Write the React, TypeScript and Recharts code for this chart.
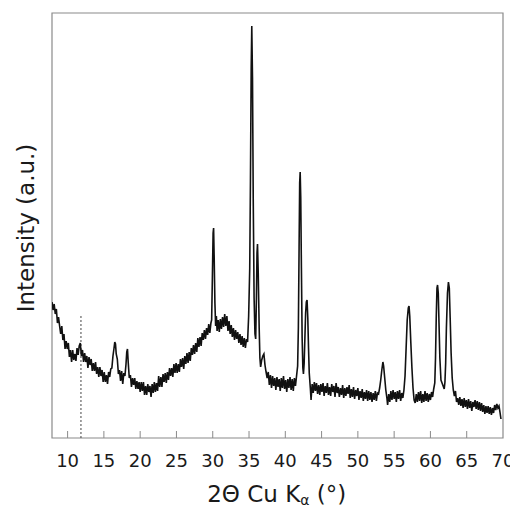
import { Label, Line, LineChart, ReferenceArea, ReferenceLine, XAxis, YAxis } from "recharts";

// [2θ (°), intensity (a.u.)], split by region
const lowAngle: [number, number][] = [
  [7.85, 136], [8.0, 128], [8.15, 134], [8.3, 124], [8.45, 129], [8.6, 115], [8.75, 121], [8.9, 112],
  [9.05, 104], [9.2, 112], [9.35, 98], [9.5, 104], [9.65, 89], [9.8, 97], [9.95, 89], [10.1, 95],
  [10.25, 81], [10.4, 88], [10.55, 76], [10.7, 88], [10.85, 78], [11.0, 84], [11.15, 77], [11.3, 90],
  [11.45, 83], [11.6, 92], [11.75, 95], [11.9, 82], [12.05, 88], [12.2, 76], [12.35, 85], [12.5, 76],
  [12.65, 82], [12.8, 70], [12.95, 81], [13.1, 73], [13.25, 79], [13.4, 67], [13.55, 75], [13.7, 67],
  [13.85, 76], [14.0, 64], [14.15, 71], [14.3, 61], [14.45, 71], [14.6, 62], [14.75, 68], [14.9, 56],
  [15.05, 66], [15.2, 56], [15.35, 63], [15.5, 54], [15.65, 66], [15.8, 61], [15.95, 69], [16.1, 70],
  [16.25, 82], [16.4, 90], [16.5, 96], [16.6, 94], [16.7, 84], [16.85, 79], [17.0, 64], [17.15, 68],
  [17.3, 57], [17.45, 67], [17.6, 54], [17.75, 65], [17.9, 62], [18.05, 74], [18.15, 86], [18.25, 89],
  [18.35, 76], [18.5, 60], [18.65, 63], [18.8, 51], [18.95, 60], [19.1, 53], [19.25, 60], [19.4, 49],
  [19.55, 57], [19.7, 49],
];

const amorphousHump: [number, number][] = [
  [19.85, 56], [20.0, 46], [20.15, 56], [20.3, 47], [20.45, 56], [20.6, 43], [20.75, 52], [20.9, 43],
  [21.05, 54], [21.2, 46], [21.35, 52], [21.5, 41], [21.65, 54], [21.8, 45], [21.95, 56], [22.1, 46],
  [22.25, 55], [22.4, 47], [22.55, 62], [22.7, 51], [22.85, 61], [23.0, 51], [23.15, 64], [23.3, 56],
  [23.45, 65], [23.6, 55], [23.75, 66], [23.9, 58], [24.05, 70], [24.2, 62], [24.35, 70], [24.5, 61],
  [24.65, 74], [24.8, 65], [24.95, 75], [25.1, 65], [25.25, 74], [25.4, 66], [25.55, 79], [25.7, 71],
  [25.85, 80], [26.0, 69], [26.15, 82], [26.3, 74], [26.45, 85], [26.6, 75], [26.75, 86], [26.9, 77],
  [27.05, 90], [27.2, 83], [27.35, 93], [27.5, 84], [27.65, 95], [27.8, 86], [27.95, 100], [28.1, 91],
  [28.25, 101], [28.4, 92], [28.55, 105], [28.7, 98], [28.85, 108], [29.0, 99], [29.15, 110], [29.3, 103],
  [29.45, 114], [29.6, 105], [29.75, 115],
];

const mainPeaks: [number, number][] = [
  [29.85, 118], [29.95, 160], [30.05, 205], [30.12, 210], [30.2, 180], [30.3, 135], [30.4, 112], [30.5, 122],
  [30.6, 107], [30.75, 118], [30.9, 106], [31.05, 119], [31.2, 109], [31.35, 121], [31.5, 111], [31.65, 124],
  [31.8, 112], [31.95, 122], [32.1, 107], [32.25, 117], [32.4, 104], [32.55, 113], [32.7, 101], [32.85, 110],
  [33.0, 98], [33.15, 108], [33.3, 99], [33.45, 106], [33.6, 95], [33.75, 104], [33.9, 93], [34.05, 102],
  [34.2, 91], [34.35, 100], [34.5, 90], [34.65, 99], [34.8, 96], [34.95, 122], [35.1, 170], [35.2, 260],
  [35.3, 370], [35.38, 412], [35.48, 360], [35.58, 240], [35.7, 140], [35.82, 104], [35.92, 99], [36.02, 140],
  [36.1, 185], [36.17, 194], [36.27, 165], [36.4, 110], [36.5, 80], [36.6, 71], [36.75, 78], [36.9, 82],
  [37.05, 84], [37.2, 73], [37.35, 66], [37.5, 60], [37.65, 66], [37.8, 53], [37.95, 63], [38.1, 50],
  [38.25, 62], [38.4, 52], [38.55, 60], [38.7, 48], [38.85, 61], [39.0, 51], [39.15, 59], [39.3, 47],
  [39.45, 60], [39.6, 50], [39.75, 62], [39.9, 49], [40.05, 58], [40.2, 46], [40.35, 59], [40.5, 50],
  [40.65, 61], [40.8, 48], [40.95, 59], [41.1, 47], [41.25, 60], [41.4, 52], [41.55, 62], [41.7, 72],
  [41.8, 110], [41.9, 190], [41.98, 255], [42.05, 266], [42.13, 240], [42.22, 170], [42.32, 100], [42.42, 70],
  [42.5, 64], [42.6, 75], [42.7, 100], [42.8, 125], [42.9, 136], [43.0, 138], [43.1, 120], [43.2, 90],
  [43.3, 65], [43.45, 50], [43.55, 38],
];

const midRange: [number, number][] = [
  [43.7, 54], [43.85, 45], [44.0, 56], [44.15, 47], [44.3, 55], [44.45, 44], [44.6, 53], [44.75, 43],
  [44.9, 54], [45.05, 46], [45.2, 55], [45.35, 42], [45.5, 52], [45.65, 45], [45.8, 55], [45.95, 43],
  [46.1, 51], [46.25, 42], [46.4, 54], [46.55, 46], [46.7, 52], [46.85, 41], [47.0, 55], [47.15, 45],
  [47.3, 51], [47.45, 41], [47.6, 50], [47.75, 43], [47.9, 53], [48.05, 40], [48.2, 50], [48.35, 42],
  [48.5, 51], [48.65, 44], [48.8, 53], [48.95, 40], [49.1, 49], [49.25, 41], [49.4, 51], [49.55, 39],
  [49.7, 48], [49.85, 42], [50.0, 50], [50.15, 38], [50.3, 47], [50.45, 40], [50.6, 49], [50.75, 37],
  [50.9, 46], [51.05, 39], [51.2, 48], [51.35, 37], [51.5, 47], [51.65, 38], [51.8, 46], [51.95, 36],
  [52.1, 45], [52.25, 38], [52.4, 47], [52.55, 37], [52.7, 45], [52.85, 44], [53.0, 50], [53.15, 58],
  [53.3, 68], [53.45, 76], [53.55, 72], [53.7, 60], [53.85, 48], [54.0, 40], [54.1, 33], [54.25, 44],
  [54.4, 36], [54.55, 47], [54.7, 38], [54.85, 48], [55.0, 39], [55.15, 46], [55.3, 36], [55.45, 47],
  [55.6, 39], [55.75, 48], [55.9, 37], [56.05, 45], [56.2, 40],
];

const highAngle: [number, number][] = [
  [56.35, 48], [56.5, 62], [56.65, 90], [56.8, 118], [56.95, 130], [57.05, 132], [57.15, 122], [57.3, 95],
  [57.45, 70], [57.6, 50], [57.75, 38], [57.9, 35], [58.05, 44], [58.2, 36], [58.35, 46], [58.5, 37],
  [58.65, 47], [58.8, 35], [58.95, 44], [59.1, 36], [59.25, 47], [59.4, 37], [59.55, 45], [59.7, 36],
  [59.85, 44], [60.0, 38], [60.15, 46], [60.3, 41], [60.45, 49], [60.6, 55], [60.7, 80], [60.8, 120],
  [60.9, 150], [60.98, 153], [61.08, 145], [61.18, 115], [61.3, 80], [61.45, 58], [61.6, 55], [61.75, 52],
  [61.9, 49], [62.0, 56], [62.1, 75], [62.2, 110], [62.35, 145], [62.48, 156], [62.6, 150], [62.72, 120],
  [62.85, 85], [63.0, 60], [63.15, 48], [63.3, 42], [63.45, 47], [63.6, 36], [63.75, 40], [63.9, 33],
  [64.05, 41], [64.2, 32], [64.35, 39], [64.5, 30], [64.65, 40], [64.8, 31], [64.95, 38], [65.1, 29],
  [65.25, 39], [65.4, 30], [65.55, 37], [65.7, 27], [65.85, 36], [66.0, 31], [66.15, 38], [66.3, 29],
  [66.45, 37], [66.6, 28], [66.75, 36], [66.9, 27], [67.05, 35], [67.2, 26], [67.35, 33], [67.5, 24],
  [67.65, 32], [67.8, 25], [67.95, 32], [68.1, 24], [68.25, 31], [68.4, 23], [68.55, 30], [68.7, 25],
  [68.85, 33], [69.0, 28], [69.15, 34], [69.3, 30], [69.45, 32], [69.6, 25], [69.72, 19],
];

const xTicks = [10, 15, 20, 25, 30, 35, 40, 45, 50, 55, 60, 65, 70];
const xDomain: [number, number] = [7.85, 70];
const yDomain: [number, number] = [0, 425];

// dotted marker line
const markerAngle = 11.84;
const markerTop = 123;

const FONT = "'DejaVu Sans', Verdana, sans-serif";
const FRAME = "#8a8a8a";
const INK = "#1a1a1a";

const data = [...lowAngle, ...amorphousHump, ...mainPeaks, ...midRange, ...highAngle].map(([angle, intensity]) => ({
  angle,
  intensity,
}));

function BottomTick({ x, y, payload }: { x?: number; y?: number; payload?: { value: number } }) {
  if (x == null || y == null || !payload) return null;
  return (
    <g>
      {payload.value < 70 && <line x1={x} x2={x} y1={y} y2={y - 7} stroke={FRAME} strokeWidth={1} />}
      <text x={x} y={y + 29} textAnchor="middle" fontSize={18} fontFamily={FONT} fill={INK}>
        {payload.value}
      </text>
    </g>
  );
}

function TopTick({ x, y, payload }: { x?: number; y?: number; payload?: { value: number } }) {
  if (x == null || y == null || !payload || payload.value >= 70) return null;
  return <line x1={x} x2={x} y1={y} y2={y + 7} stroke={FRAME} strokeWidth={1} />;
}

// both axis titles are drawn here so they sit at fixed spots
function AxisTitles() {
  return (
    <g>
      <text x={268.7} y={494} textAnchor="middle" fontSize={23} fontFamily={FONT} fill={INK}>
        2Θ Cu K
        <tspan dy={3} fontSize={14}>α</tspan>
        <tspan dy={-3}> (°)</tspan>
      </text>
      <text
        x={26}
        y={220}
        transform="rotate(-90 26 220)"
        textAnchor="middle"
        fontSize={23}
        fontFamily={FONT}
        fill={INK}
      >
        Intensity (a.u.)
      </text>
    </g>
  );
}

export default function App() {
  return (
    <div style={{ fontFamily: FONT }}>
      <LineChart width={510} height={500} data={data} margin={{ top: 5, right: 15, left: 44, bottom: 0 }}>
        <XAxis
          dataKey="angle"
          type="number"
          domain={xDomain}
          ticks={xTicks}
          interval={0}
          allowDataOverflow
          height={70}
          axisLine={false}
          tickLine={false}
          tickSize={0}
          tickMargin={0}
          tick={<BottomTick />}
        >
          <Label content={() => <AxisTitles />} />
        </XAxis>
        <XAxis
          xAxisId="top"
          orientation="top"
          dataKey="angle"
          type="number"
          domain={xDomain}
          ticks={xTicks}
          interval={0}
          allowDataOverflow
          height={0}
          axisLine={false}
          tickLine={false}
          tickSize={0}
          tickMargin={0}
          tick={<TopTick />}
        />
        <YAxis type="number" domain={yDomain} width={0} axisLine={false} tickLine={false} tick={false} />
        <ReferenceArea x1={xDomain[0]} x2={xDomain[1]} y1={yDomain[0]} y2={yDomain[1]} fill="none" stroke={FRAME} strokeWidth={1.2} />
        <ReferenceLine
          segment={[
            { x: markerAngle, y: 0 },
            { x: markerAngle, y: markerTop },
          ]}
          stroke="#444"
          strokeDasharray="2 2"
          strokeWidth={1}
        />
        <Line
          type="linear"
          dataKey="intensity"
          stroke="#111"
          strokeWidth={1.6}
          dot={false}
          isAnimationActive={false}
        />
      </LineChart>
    </div>
  );
}
